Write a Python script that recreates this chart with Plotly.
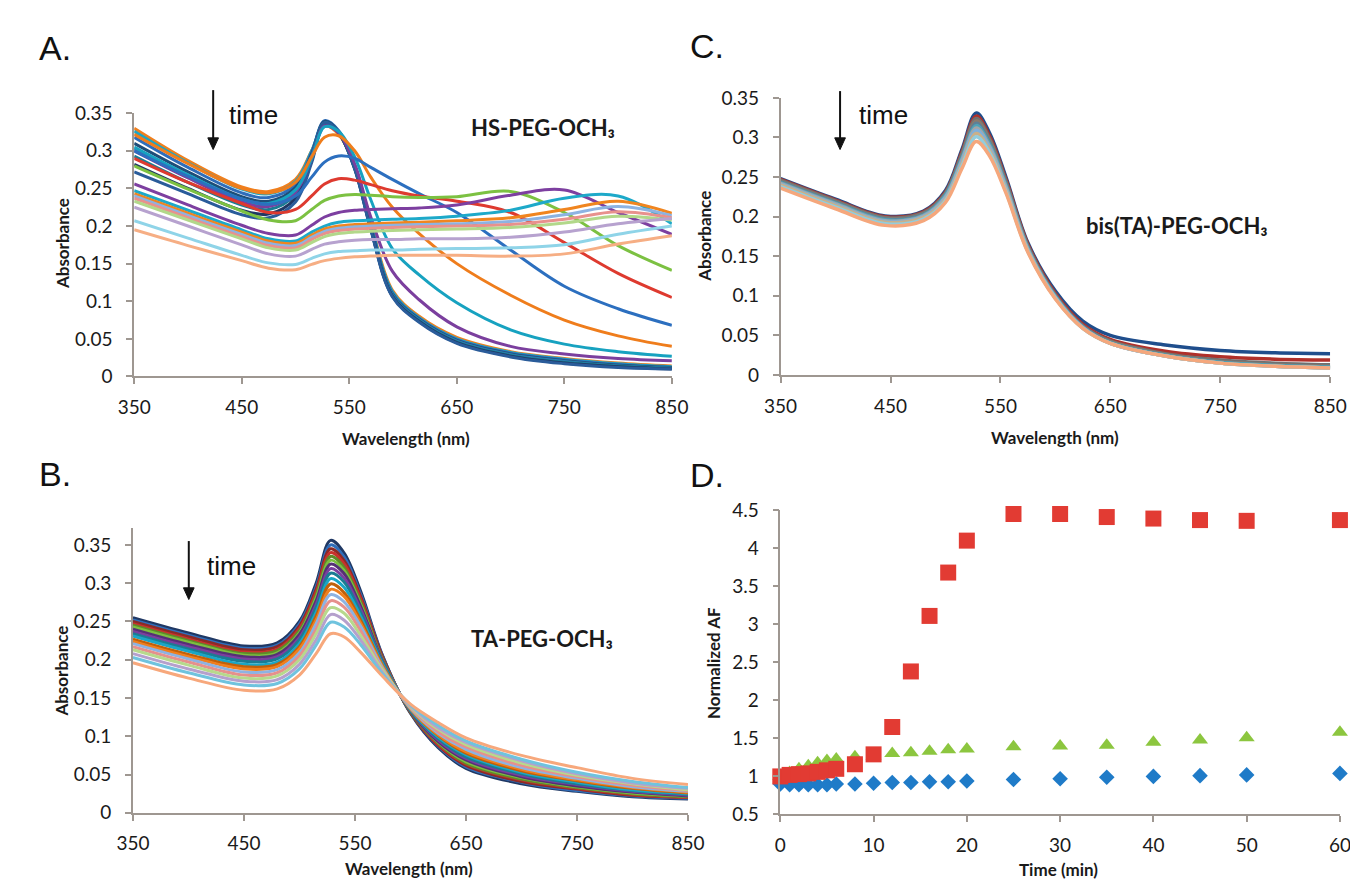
import plotly.graph_objects as go

W, H = 1358, 883

# ---------------- Panel A : HS-PEG-OCH3 ----------------
WL_A = [350, 400, 450, 475, 500, 515, 527, 540, 555, 570, 590, 615, 650, 700, 750, 800, 850]
A_01 = [0.330, 0.287, 0.252, 0.246, 0.262, 0.300, 0.333, 0.322, 0.280, 0.205, 0.115, 0.080, 0.052, 0.033, 0.024, 0.018, 0.014]
A_02 = [0.326, 0.284, 0.249, 0.243, 0.259, 0.300, 0.337, 0.325, 0.280, 0.203, 0.113, 0.078, 0.050, 0.032, 0.023, 0.017, 0.013]
A_03 = [0.318, 0.278, 0.244, 0.238, 0.255, 0.298, 0.340, 0.327, 0.280, 0.201, 0.111, 0.077, 0.049, 0.031, 0.022, 0.016, 0.012]
A_04 = [0.310, 0.272, 0.239, 0.233, 0.251, 0.296, 0.339, 0.326, 0.279, 0.199, 0.110, 0.076, 0.048, 0.030, 0.021, 0.015, 0.012]
A_05 = [0.303, 0.266, 0.234, 0.228, 0.247, 0.293, 0.337, 0.325, 0.278, 0.198, 0.109, 0.075, 0.047, 0.029, 0.020, 0.014, 0.011]
A_06 = [0.293, 0.258, 0.228, 0.222, 0.242, 0.290, 0.336, 0.324, 0.277, 0.197, 0.108, 0.074, 0.046, 0.028, 0.019, 0.014, 0.011]
A_07 = [0.282, 0.250, 0.221, 0.216, 0.237, 0.287, 0.336, 0.324, 0.276, 0.196, 0.107, 0.073, 0.045, 0.027, 0.018, 0.013, 0.010]
A_08 = [0.272, 0.243, 0.215, 0.211, 0.232, 0.284, 0.337, 0.325, 0.276, 0.195, 0.106, 0.072, 0.044, 0.026, 0.017, 0.012, 0.010]
A_09 = [0.300, 0.264, 0.232, 0.226, 0.245, 0.290, 0.333, 0.324, 0.283, 0.212, 0.140, 0.102, 0.066, 0.040, 0.030, 0.024, 0.021]
A_10 = [0.305, 0.268, 0.236, 0.230, 0.248, 0.290, 0.332, 0.326, 0.292, 0.235, 0.170, 0.135, 0.098, 0.062, 0.043, 0.033, 0.027]
A_11 = [0.322, 0.283, 0.250, 0.244, 0.258, 0.292, 0.318, 0.320, 0.300, 0.265, 0.225, 0.190, 0.150, 0.108, 0.075, 0.054, 0.040]
A_12 = [0.300, 0.266, 0.236, 0.229, 0.240, 0.265, 0.285, 0.293, 0.290, 0.278, 0.262, 0.243, 0.218, 0.168, 0.120, 0.090, 0.068]
A_13 = [0.290, 0.258, 0.230, 0.218, 0.222, 0.240, 0.256, 0.263, 0.261, 0.255, 0.247, 0.240, 0.233, 0.218, 0.178, 0.137, 0.105]
A_14 = [0.280, 0.249, 0.220, 0.208, 0.207, 0.222, 0.234, 0.240, 0.242, 0.241, 0.239, 0.238, 0.239, 0.246, 0.218, 0.174, 0.141]
A_15 = [0.256, 0.228, 0.201, 0.190, 0.188, 0.201, 0.212, 0.218, 0.221, 0.222, 0.223, 0.224, 0.228, 0.241, 0.248, 0.218, 0.189]
A_16 = [0.247, 0.221, 0.195, 0.183, 0.180, 0.192, 0.200, 0.205, 0.207, 0.208, 0.209, 0.210, 0.213, 0.221, 0.237, 0.240, 0.203]
A_17 = [0.243, 0.217, 0.192, 0.180, 0.177, 0.188, 0.196, 0.200, 0.202, 0.203, 0.204, 0.205, 0.207, 0.211, 0.222, 0.233, 0.217]
A_18 = [0.240, 0.214, 0.189, 0.177, 0.174, 0.185, 0.193, 0.197, 0.199, 0.200, 0.201, 0.202, 0.203, 0.206, 0.215, 0.226, 0.214]
A_19 = [0.237, 0.211, 0.186, 0.174, 0.171, 0.182, 0.190, 0.194, 0.196, 0.197, 0.198, 0.199, 0.200, 0.202, 0.209, 0.219, 0.211]
A_20 = [0.233, 0.208, 0.183, 0.171, 0.168, 0.178, 0.186, 0.190, 0.192, 0.193, 0.194, 0.195, 0.196, 0.198, 0.204, 0.213, 0.208]
A_21 = [0.225, 0.200, 0.175, 0.163, 0.160, 0.169, 0.176, 0.179, 0.181, 0.182, 0.182, 0.183, 0.183, 0.185, 0.192, 0.203, 0.210]
A_22 = [0.207, 0.184, 0.161, 0.151, 0.149, 0.157, 0.163, 0.166, 0.167, 0.168, 0.168, 0.169, 0.170, 0.171, 0.175, 0.189, 0.200]
A_23 = [0.195, 0.174, 0.154, 0.144, 0.142, 0.149, 0.154, 0.157, 0.159, 0.160, 0.161, 0.161, 0.161, 0.160, 0.163, 0.176, 0.187]

# ---------------- Panel B : TA-PEG-OCH3 ----------------
WL_B = [350, 400, 450, 480, 500, 515, 528, 540, 555, 575, 600, 625, 650, 700, 750, 800, 850]
B_01 = [0.255, 0.235, 0.218, 0.222, 0.250, 0.300, 0.356, 0.340, 0.290, 0.205, 0.130, 0.085, 0.058, 0.038, 0.028, 0.021, 0.018]
B_02 = [0.252, 0.232, 0.215, 0.219, 0.247, 0.295, 0.350, 0.335, 0.286, 0.204, 0.131, 0.087, 0.060, 0.040, 0.029, 0.022, 0.019]
B_03 = [0.250, 0.230, 0.213, 0.217, 0.244, 0.292, 0.345, 0.330, 0.283, 0.203, 0.131, 0.088, 0.062, 0.041, 0.031, 0.023, 0.020]
B_04 = [0.247, 0.227, 0.210, 0.214, 0.241, 0.288, 0.340, 0.326, 0.280, 0.201, 0.132, 0.089, 0.064, 0.043, 0.032, 0.024, 0.020]
B_05 = [0.245, 0.225, 0.208, 0.212, 0.238, 0.284, 0.335, 0.321, 0.276, 0.200, 0.132, 0.091, 0.065, 0.044, 0.033, 0.025, 0.021]
B_06 = [0.243, 0.223, 0.206, 0.209, 0.235, 0.281, 0.330, 0.317, 0.273, 0.199, 0.133, 0.092, 0.067, 0.046, 0.034, 0.026, 0.022]
B_07 = [0.240, 0.220, 0.204, 0.207, 0.233, 0.277, 0.325, 0.313, 0.270, 0.198, 0.133, 0.093, 0.069, 0.047, 0.035, 0.027, 0.022]
B_08 = [0.237, 0.217, 0.201, 0.204, 0.229, 0.272, 0.319, 0.307, 0.266, 0.197, 0.134, 0.095, 0.071, 0.049, 0.037, 0.028, 0.023]
B_09 = [0.234, 0.214, 0.198, 0.201, 0.226, 0.268, 0.313, 0.302, 0.262, 0.196, 0.134, 0.097, 0.073, 0.051, 0.038, 0.029, 0.024]
B_10 = [0.231, 0.211, 0.194, 0.197, 0.221, 0.262, 0.306, 0.295, 0.257, 0.194, 0.135, 0.099, 0.076, 0.053, 0.040, 0.030, 0.025]
B_11 = [0.227, 0.207, 0.191, 0.194, 0.217, 0.257, 0.299, 0.288, 0.252, 0.192, 0.136, 0.101, 0.078, 0.055, 0.042, 0.032, 0.026]
B_12 = [0.224, 0.204, 0.188, 0.191, 0.214, 0.252, 0.292, 0.283, 0.248, 0.191, 0.136, 0.102, 0.080, 0.057, 0.043, 0.033, 0.027]
B_13 = [0.221, 0.201, 0.184, 0.187, 0.209, 0.247, 0.285, 0.276, 0.244, 0.189, 0.137, 0.104, 0.083, 0.059, 0.045, 0.034, 0.028]
B_14 = [0.217, 0.197, 0.180, 0.183, 0.205, 0.240, 0.277, 0.269, 0.238, 0.187, 0.138, 0.106, 0.086, 0.062, 0.047, 0.036, 0.029]
B_15 = [0.213, 0.193, 0.176, 0.179, 0.200, 0.234, 0.268, 0.261, 0.232, 0.186, 0.139, 0.109, 0.089, 0.065, 0.049, 0.038, 0.030]
B_16 = [0.208, 0.188, 0.172, 0.174, 0.194, 0.226, 0.259, 0.252, 0.226, 0.183, 0.140, 0.111, 0.092, 0.068, 0.051, 0.039, 0.032]
B_17 = [0.203, 0.183, 0.167, 0.169, 0.188, 0.219, 0.249, 0.243, 0.220, 0.181, 0.141, 0.114, 0.094, 0.070, 0.053, 0.041, 0.033]
B_18 = [0.196, 0.176, 0.160, 0.162, 0.180, 0.208, 0.234, 0.230, 0.210, 0.178, 0.142, 0.118, 0.098, 0.075, 0.059, 0.045, 0.037]

# ---------------- Panel C : bis(TA)-PEG-OCH3 ----------------
WL_C = [350, 400, 445, 480, 500, 515, 528, 540, 555, 575, 600, 625, 650, 700, 750, 800, 850]
C_01 = [0.248, 0.222, 0.201, 0.207, 0.233, 0.285, 0.331, 0.306, 0.250, 0.167, 0.106, 0.068, 0.050, 0.038, 0.031, 0.028, 0.027]
C_02 = [0.247, 0.221, 0.200, 0.206, 0.231, 0.282, 0.327, 0.302, 0.247, 0.165, 0.103, 0.064, 0.045, 0.030, 0.023, 0.020, 0.019]
C_03 = [0.246, 0.220, 0.199, 0.205, 0.230, 0.280, 0.324, 0.299, 0.245, 0.163, 0.101, 0.062, 0.043, 0.027, 0.019, 0.015, 0.013]
C_04 = [0.245, 0.219, 0.198, 0.204, 0.229, 0.278, 0.321, 0.297, 0.243, 0.162, 0.100, 0.061, 0.042, 0.026, 0.017, 0.013, 0.011]
C_05 = [0.244, 0.218, 0.197, 0.203, 0.228, 0.276, 0.318, 0.294, 0.241, 0.161, 0.099, 0.061, 0.041, 0.025, 0.016, 0.012, 0.010]
C_06 = [0.243, 0.217, 0.196, 0.202, 0.227, 0.274, 0.315, 0.292, 0.240, 0.160, 0.099, 0.060, 0.041, 0.025, 0.016, 0.012, 0.010]
C_07 = [0.242, 0.216, 0.195, 0.201, 0.225, 0.272, 0.312, 0.289, 0.238, 0.159, 0.098, 0.060, 0.040, 0.024, 0.015, 0.011, 0.009]
C_08 = [0.241, 0.215, 0.194, 0.200, 0.224, 0.270, 0.309, 0.287, 0.236, 0.158, 0.098, 0.060, 0.040, 0.024, 0.015, 0.011, 0.009]
C_09 = [0.240, 0.214, 0.193, 0.199, 0.222, 0.267, 0.305, 0.284, 0.234, 0.157, 0.097, 0.059, 0.040, 0.024, 0.015, 0.011, 0.009]
C_10 = [0.238, 0.212, 0.191, 0.197, 0.220, 0.264, 0.301, 0.281, 0.232, 0.156, 0.097, 0.059, 0.040, 0.024, 0.015, 0.011, 0.009]
C_11 = [0.236, 0.210, 0.189, 0.195, 0.218, 0.261, 0.295, 0.277, 0.230, 0.155, 0.096, 0.059, 0.040, 0.024, 0.015, 0.011, 0.009]

# ---------------- Panel D : Normalized AF vs time ----------------
D_TIME = [0, 1, 2, 3, 4, 5, 6, 8, 10, 12, 14, 16, 18, 20, 25, 30, 35, 40, 45, 50, 60]
D_BLUE = [0.90, 0.89, 0.89, 0.89, 0.89, 0.89, 0.90, 0.90, 0.91, 0.92, 0.92, 0.93, 0.93, 0.94, 0.96, 0.97, 0.99, 1.00, 1.01, 1.02, 1.04]
D_GREEN = [1.00, 1.05, 1.10, 1.14, 1.18, 1.21, 1.23, 1.26, 1.27, 1.30, 1.31, 1.33, 1.35, 1.36, 1.39, 1.40, 1.41, 1.45, 1.48, 1.51, 1.58]
D_RED = [1.00, 1.02, 1.03, 1.04, 1.06, 1.08, 1.10, 1.16, 1.29, 1.65, 2.38, 3.11, 3.68, 4.10, 4.45, 4.45, 4.41, 4.39, 4.37, 4.36, 4.37]

WL_TICKS = [350, 450, 550, 650, 750, 850]
ABS_TICKS = [0, 0.05, 0.1, 0.15, 0.2, 0.25, 0.3, 0.35]
ABS_LABELS = ["0", "0.05", "0.1", "0.15", "0.2", "0.25", "0.3", "0.35"]
T_TICKS = [0, 10, 20, 30, 40, 50, 60]
AF_TICKS = [0.5, 1, 1.5, 2, 2.5, 3, 3.5, 4, 4.5]
AF_LABELS = ["0.5", "1", "1.5", "2", "2.5", "3", "3.5", "4", "4.5"]

# ---------------- styles ----------------
A_SERIES = [A_01, A_02, A_03, A_04, A_05, A_06, A_07, A_08, A_09, A_10, A_11, A_12,
            A_13, A_14, A_15, A_16, A_17, A_18, A_19, A_20, A_21, A_22, A_23]
A_COLORS = ['#F07F1D', '#1AA6C6', '#2F6EBA', '#1F4E79', '#2D7FB8', '#1B7C93', '#203864', '#2A5C9A',
            '#7B3F9E', '#17A2C0', '#EF7D1C', '#2C6FBF', '#DE3A2F', '#7CC142', '#7D3FA0', '#1DA9C9',
            '#F0851F', '#8DB3E2', '#E8918D', '#B2D88A', '#B7A2CF', '#8FD4E8', '#F6AE84']
B_SERIES = [B_01, B_02, B_03, B_04, B_05, B_06, B_07, B_08, B_09, B_10, B_11, B_12,
            B_13, B_14, B_15, B_16, B_17, B_18]
B_COLORS = ['#203864', '#2F6EBA', '#8B2B27', '#C9302C', '#5F8A2A', '#7CBF3F', '#553075', '#7B3F9E',
            '#1B7C93', '#1AA6C6', '#C0600A', '#F07F1D', '#8DB3E2', '#E6908C', '#B7D98C', '#B5A0CC',
            '#6FC3DE', '#F7A87C']
C_SERIES = [C_01, C_02, C_03, C_04, C_05, C_06, C_07, C_08, C_09, C_10, C_11]
C_COLORS = ['#1F4E8C', '#B0302A', '#707070', '#8C7A6B', '#5E7F96', '#4FA3B8', '#A5A5A5', '#7FB0DC',
            '#C9B08A', '#93CDDD', '#F5A77C']

fig = go.Figure()

for vals, col in zip(A_SERIES, A_COLORS):
    fig.add_trace(go.Scatter(x=WL_A, y=vals, mode='lines', line=dict(color=col, width=3, shape='spline'),
                             xaxis='x', yaxis='y', showlegend=False, hoverinfo='skip'))
for vals, col in zip(B_SERIES, B_COLORS):
    fig.add_trace(go.Scatter(x=WL_B, y=vals, mode='lines', line=dict(color=col, width=3, shape='spline'),
                             xaxis='x2', yaxis='y2', showlegend=False, hoverinfo='skip'))
for vals, col in zip(C_SERIES, C_COLORS):
    fig.add_trace(go.Scatter(x=WL_C, y=vals, mode='lines', line=dict(color=col, width=3.5, shape='spline'),
                             xaxis='x3', yaxis='y3', showlegend=False, hoverinfo='skip'))

fig.add_trace(go.Scatter(x=D_TIME, y=D_BLUE, mode='markers', cliponaxis=False,
                         marker=dict(symbol='diamond', size=12, color='#1F7BC8'),
                         xaxis='x4', yaxis='y4', showlegend=False))
fig.add_trace(go.Scatter(x=D_TIME, y=D_GREEN, mode='markers', cliponaxis=False,
                         marker=dict(symbol='triangle-up', size=14, color='#8CC63F'),
                         xaxis='x4', yaxis='y4', showlegend=False))
fig.add_trace(go.Scatter(x=D_TIME, y=D_RED, mode='markers', cliponaxis=False,
                         marker=dict(symbol='square', size=16, color='#E23B33'),
                         xaxis='x4', yaxis='y4', showlegend=False))

AXCOL = '#9E9791'
TICKFONT = dict(family='Lato', size=19, color='#1a1a1a')


def xax(domain, rng, tickvals, anchor):
    return dict(domain=domain, range=rng, tickvals=tickvals, ticks='outside', ticklen=6,
                tickcolor=AXCOL, tickwidth=1.5, showline=True, linecolor=AXCOL, linewidth=1.5,
                showgrid=False, zeroline=False, tickfont=TICKFONT, anchor=anchor,
                ticklabelstandoff=7, fixedrange=True)


def yax(domain, rng, tickvals, ticktext, anchor):
    return dict(domain=domain, range=rng, tickvals=tickvals, ticktext=ticktext, ticks='outside',
                ticklen=6, tickcolor=AXCOL, tickwidth=1.5, showline=True, linecolor=AXCOL,
                linewidth=1.5, showgrid=False, zeroline=False, tickfont=TICKFONT, anchor=anchor,
                ticklabelstandoff=10, fixedrange=True)


def px(v):
    return v / W


def py(v):
    return 1 - v / H


layout = dict(
    width=W, height=H, margin=dict(l=0, r=0, t=0, b=0),
    paper_bgcolor='white', plot_bgcolor='white',
    xaxis=xax([px(112), px(663.5)], [350, 850], WL_TICKS, 'y'),
    yaxis=yax([py(366), py(95.7)], [0, 0.35], ABS_TICKS, ABS_LABELS, 'x'),
    xaxis2=xax([px(110.7), px(680)], [350, 850], WL_TICKS, 'y2'),
    yaxis2=yax([py(814), py(521.7)], [0, 0.372], ABS_TICKS, ABS_LABELS, 'x2'),
    xaxis3=xax([px(775), px(1338.7)], [350, 850], WL_TICKS, 'y3'),
    yaxis3=yax([py(364.5), py(80)], [0, 0.35], ABS_TICKS, ABS_LABELS, 'x3'),
    xaxis4=xax([px(774.7), px(1348.7)], [0, 60], T_TICKS, 'y4'),
    yaxis4=yax([py(815.7), py(503.3)], [0.5, 4.5], AF_TICKS, AF_LABELS, 'x4'),
)

ann = []
LET = dict(family='Liberation Sans', size=34, color='#111')
for t, x, y in [('A.', 12, 29), ('B.', 12, 466), ('C.', 680, 27), ('D.', 680, 467)]:
    ann.append(dict(text=t, x=px(x), y=py(y), xref='paper', yref='paper', xanchor='left',
                    yanchor='middle', showarrow=False, font=LET))

TITLE = dict(family='Lato', size=17, color='#1a1a1a', weight='bold')
for t, x, y, rot in [('Absorbance', 38, 230, -90), ('Wavelength (nm)', 391, 430, 0),
                     ('Absorbance', 38, 669, -90), ('Wavelength (nm)', 394, 871, 0),
                     ('Absorbance', 697, 222, -90), ('Wavelength (nm)', 1056, 429, 0),
                     ('Normalized AF', 707, 660, -90), ('Time (min)', 1060, 872, 0)]:
    ann.append(dict(text=t, x=px(x), y=py(y), xref='paper', yref='paper', xanchor='center',
                    yanchor='middle', showarrow=False, font=TITLE, textangle=rot))

# "time" arrows drawn as shapes (shaft + head)
shapes = []
TIMEF = dict(family='Liberation Sans', size=26, color='#111')
for xa, ya0, ya1, xt, yt in [(193, 72, 133, 207, 98), (168, 535, 595, 185, 561), (836, 73, 133, 853, 98)]:
    shapes.append(dict(type='line', xref='paper', yref='paper', x0=px(xa), x1=px(xa),
                       y0=py(ya0), y1=py(ya1 - 8), line=dict(color='#111', width=2)))
    shapes.append(dict(type='path', xref='paper', yref='paper',
                       path='M {} {} L {} {} L {} {} Z'.format(px(xa - 5.5), py(ya1 - 12), px(xa + 5.5),
                                                            py(ya1 - 12), px(xa), py(ya1)),
                       fillcolor='#111', line=dict(color='#111', width=1)))
    ann.append(dict(text='time', x=px(xt), y=py(yt), xref='paper', yref='paper', xanchor='left',
                    yanchor='middle', showarrow=False, font=TIMEF))

CHEM = dict(family='Lato', size=22, color='#1a1a1a', weight='bold')
for t, x, y in [('HS-PEG-OCH\u2083', 455, 110), ('TA-PEG-OCH\u2083', 455, 635),
                ('bis(TA)-PEG-OCH\u2083', 1086, 211)]:
    ann.append(dict(text=t, x=px(x), y=py(y), xref='paper', yref='paper', xanchor='left',
                    yanchor='middle', showarrow=False, font=CHEM))

layout['annotations'] = ann
layout['shapes'] = shapes
fig.update_layout(**layout)
fig.write_html("out.html")
